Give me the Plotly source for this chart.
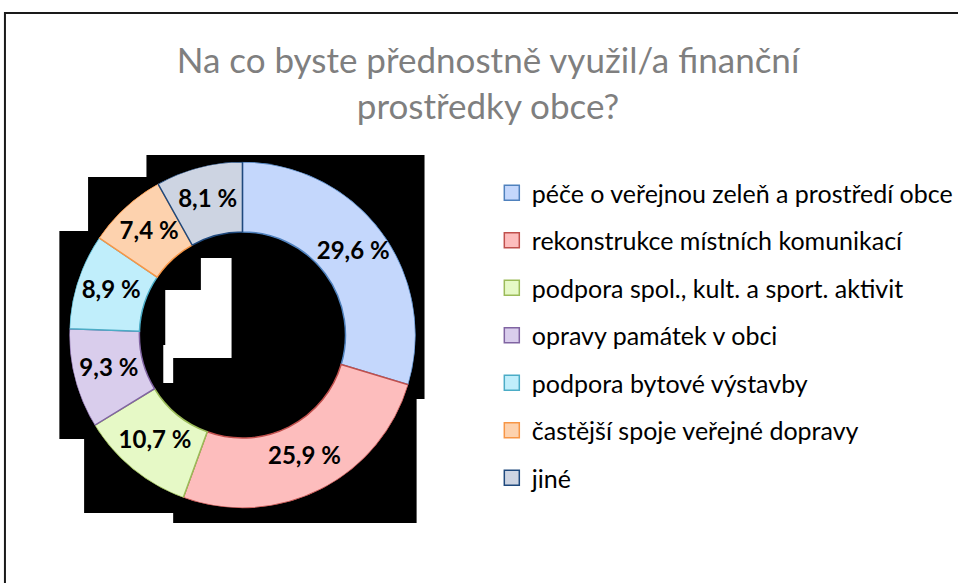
import plotly.graph_objects as go

W, H = 958, 583

categories = [
    "péče o veřejnou zeleň a prostředí obce",
    "rekonstrukce místních komunikací",
    "podpora spol., kult. a sport. aktivit",
    "opravy památek v obci",
    "podpora bytové výstavby",
    "častější spoje veřejné dopravy",
    "jiné",
]
values = [29.6, 25.9, 10.7, 9.3, 8.9, 7.4, 8.1]
value_labels = ["29,6 %", "25,9 %", "10,7 %", "9,3 %", "8,9 %", "7,4 %", "8,1 %"]

fill_colors = ["#c4d7fc", "#fdbdbd", "#e6f9c6", "#d9cdec", "#c0eefb", "#fdd2ae", "#cdd4e2"]
line_colors = ["#4f81bd", "#c0504d", "#9bbb59", "#8064a2", "#4bacc6", "#f79646", "#1f497d"]

title_text = "Na co byste přednostně využil/a finanční<br>prostředky obce?"

HOLE = 0.595


def px(x):
    return x / W


def py(y):
    return 1 - y / H


donut_domain = dict(x=[px(70), px(420)], y=[py(510), py(160)])

total = sum(values)
mid_theta, widths = [], []
acc = 0.0
for v in values:
    mid_theta.append((acc + v / 2) / total * 360)
    widths.append(v / total * 360)
    acc += v

fig = go.Figure()

# donut ring as polar bars
fig.add_trace(go.Barpolar(
    r=[1 - HOLE] * len(values),
    base=[HOLE] * len(values),
    theta=mid_theta,
    width=widths,
    marker=dict(color=fill_colors, line=dict(color=line_colors, width=1.5)),
    showlegend=False,
    hovertext=categories,
    hoverinfo="text",
))

# data labels at mid-angle / mid-ring
fig.add_trace(go.Scatterpolar(
    r=[(1 + HOLE) / 2] * len(values),
    theta=mid_theta,
    text=value_labels,
    mode="text",
    textfont=dict(family="Lato", size=24, color="black", weight="bold"),
    showlegend=False,
    hoverinfo="skip",
))

# legend entries
for i, (cat, fc, lc) in enumerate(zip(categories, fill_colors, line_colors)):
    fig.add_trace(go.Scatter(
        x=[None], y=[None], mode="markers", name=cat,
        legendgroup=f"g{i}",
        marker=dict(symbol="square", size=15, color=fc, line=dict(color=lc, width=1.5)),
        showlegend=True,
    ))

# background artefact shapes (black shadow + white notch) and frame
black_poly = [(148, 155), (429, 155), (429, 399), (421, 399), (421, 523), (175, 523),
              (175, 513), (85, 513), (85, 439), (60, 439), (60, 231), (89, 231),
              (89, 177), (148, 177)]
path = "M " + " L ".join(f"{px(x)},{py(y)}" for x, y in black_poly) + " Z"
white_poly = [(203, 258), (234, 258), (234, 358), (175, 358), (175, 383), (165, 383),
              (165, 345), (167, 345), (167, 290), (203, 290)]
path2 = "M " + " L ".join(f"{px(x)},{py(y)}" for x, y in white_poly) + " Z"

shapes = [
    dict(type="path", xref="paper", yref="paper", path=path, fillcolor="black",
         line=dict(width=0), layer="below"),
    dict(type="path", xref="paper", yref="paper", path=path2, fillcolor="white",
         line=dict(width=0), layer="below"),
    dict(type="rect", xref="paper", yref="paper", x0=px(5), x1=px(975), y0=py(600), y1=py(13),
         line=dict(color="#1a1a1a", width=2), fillcolor="rgba(0,0,0,0)", layer="below"),
]

fig.update_layout(
    width=W, height=H,
    margin=dict(l=0, r=0, t=0, b=0),
    paper_bgcolor="white",
    plot_bgcolor="rgba(0,0,0,0)",
    xaxis=dict(visible=False),
    yaxis=dict(visible=False),
    polar=dict(
        domain=donut_domain,
        bgcolor="rgba(0,0,0,0)",
        radialaxis=dict(visible=False, range=[0, 1]),
        angularaxis=dict(visible=False, rotation=90, direction="clockwise"),
        bargap=0,
    ),
    shapes=shapes,
    title=dict(text=title_text, x=px(488), xanchor="center", y=py(73), yanchor="middle",
               font=dict(family="Lato", size=35, color="#7f7f7f")),
    legend=dict(x=px(497), y=py(170), xanchor="left", yanchor="top",
                font=dict(family="Lato", size=25, color="black"),
                tracegroupgap=12, bgcolor="rgba(0,0,0,0)"),
)

fig.write_html("out.html", config={"displayModeBar": False},
               post_script="document.body.style.margin='0';document.body.style.overflow='hidden';")
